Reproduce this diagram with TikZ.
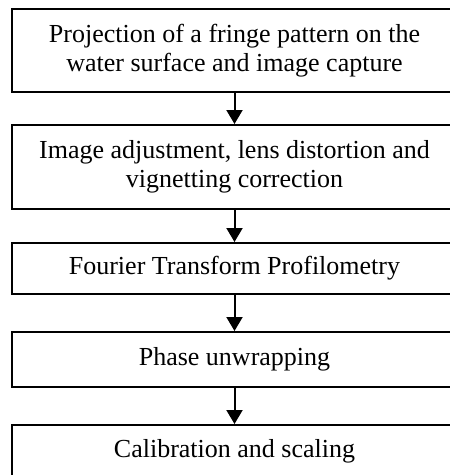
\documentclass[tikz,border=0pt]{standalone}
\usepackage{fontspec}
\setmainfont{Liberation Serif}
\usetikzlibrary{arrows.meta}
\begin{document}
\begin{tikzpicture}[x=1pt,y=-1pt,
  stepbox/.style={draw=black,line width=2pt,rectangle,minimum width=446pt,inner sep=0pt,align=center,font=\fontsize{26}{29}\selectfont},
  flow/.style={line width=2pt,-{Triangle[length=14pt,width=16pt]}}]
\useasboundingbox (0,0) rectangle (450,475);
\clip (0,0) rectangle (450,475);
\node[stepbox,minimum height=83pt] (b1) at (234.5,50.5) {Projection of a fringe pattern on the\\water surface and image capture};
\node[stepbox,minimum height=84pt] (b2) at (234.5,167) {Image adjustment, lens distortion and\\vignetting correction};
\node[stepbox,minimum height=51pt] (b3) at (234.5,268.5) {Fourier Transform Profilometry};
\node[stepbox,minimum height=55pt] (b4) at (234.5,359.5) {Phase unwrapping};
\node[stepbox,minimum height=52pt] (b5) at (234.5,451) {Calibration and scaling};
\draw[flow] (b1.south) -- (b2.north);
\draw[flow] (b2.south) -- (b3.north);
\draw[flow] (b3.south) -- (b4.north);
\draw[flow] (b4.south) -- (b5.north);
\end{tikzpicture}
\end{document}
